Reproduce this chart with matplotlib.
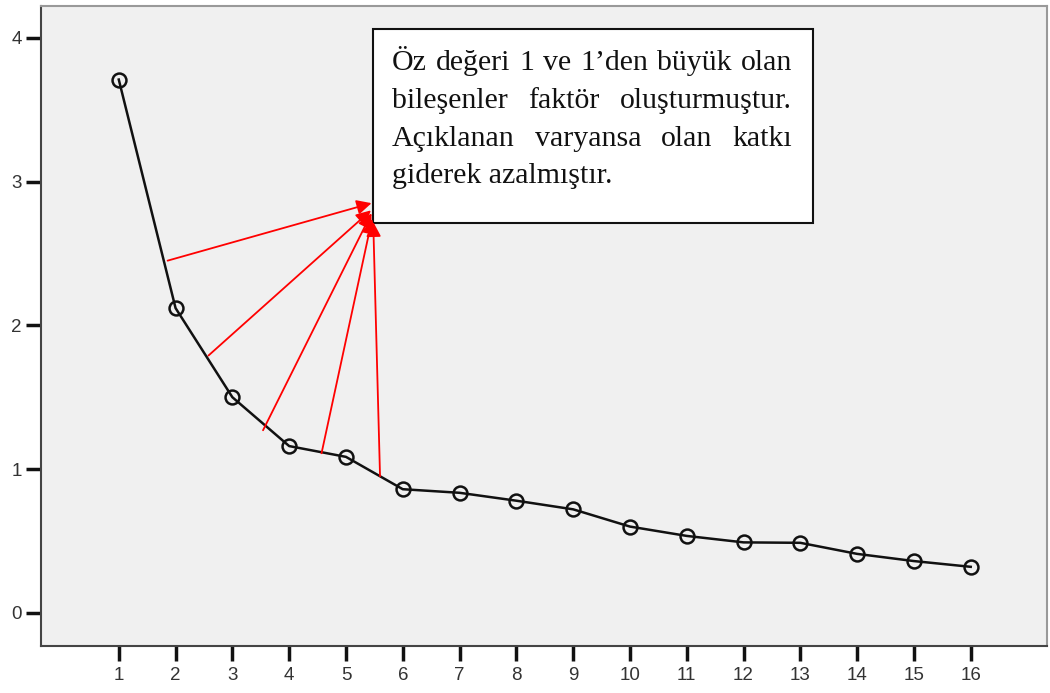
import numpy as np
import matplotlib.pyplot as plt
from matplotlib.patches import Rectangle

# veriler (scree plot)
components = list(range(1, 17))
eigenvalues = [3.71, 2.12, 1.50, 1.16, 1.085, 0.86, 0.835, 0.78,
               0.72, 0.60, 0.535, 0.49, 0.487, 0.41, 0.36, 0.32]
y_ticks = [0, 1, 2, 3, 4]

note_lines = ["Öz değeri 1 ve 1’den büyük olan",
              "bileşenler faktör oluşturmuştur.",
              "Açıklanan varyansa olan katkı",
              "giderek azalmıştır."]
justify = [True, True, True, False]

# kırmızı oklar: (başlangıç, bitiş)
arrow_starts = [(1.86, 2.45), (2.58, 1.79), (3.54, 1.27), (4.57, 1.11), (5.60, 0.95)]
arrow_ends = [(5.45, 2.85), (5.44, 2.80), (5.45, 2.78), (5.46, 2.74), (5.48, 2.72)]

fig = plt.figure(figsize=(10.5, 6.93), dpi=100)
ax = fig.add_axes([0.039, 0.068, 0.958, 0.923])
ax.set_facecolor('#f0f0f0')

ax.plot(components, eigenvalues, color='#111111', lw=1.8, marker='o', ms=10,
        mfc='none', mec='#111111', mew=1.8, zorder=3)

ax.set_xlim(-0.37, 17.34)
ax.set_ylim(-0.23, 4.22)
ax.set_xticks(components)
ax.set_yticks(y_ticks)
ax.tick_params(axis='both', length=11, width=2.5, color='#111111',
               labelsize=13.5, labelcolor='#333333')
ax.tick_params(axis='y', pad=3)
ax.tick_params(axis='x', pad=4)
for lab in ax.get_xticklabels() + ax.get_yticklabels():
    lab.set_fontfamily('Liberation Sans')

for s in ['left', 'bottom']:
    ax.spines[s].set_color('#444444')
    ax.spines[s].set_linewidth(1.5)
for s in ['top', 'right']:
    ax.spines[s].set_color('#999999')
    ax.spines[s].set_linewidth(1.5)

# metin kutusu
ax.add_patch(Rectangle((5.47, 2.71), 13.22 - 5.47, 4.06 - 2.71, facecolor='white',
                       edgecolor='#111111', lw=1.5, zorder=4))

x_left, x_right = 5.81, 12.85
baselines = [3.777, 3.513, 3.249, 2.99]
fs = 21.5
fig.canvas.draw()
renderer = fig.canvas.get_renderer()
px_left = ax.transData.transform((x_left, 0))[0]
px_right = ax.transData.transform((x_right, 0))[0]
for line, yb, jus in zip(note_lines, baselines, justify):
    if not jus:
        ax.text(x_left, yb, line, fontsize=fs, family='Liberation Serif',
                va='baseline', ha='left', zorder=5, color='#111111')
        continue
    words = line.split()
    widths = []
    for w in words:
        t = ax.text(0, 0, w, fontsize=fs, family='Liberation Serif')
        widths.append(t.get_window_extent(renderer).width)
        t.remove()
    gap = (px_right - px_left - sum(widths)) / (len(words) - 1)
    px = px_left
    for w, wd in zip(words, widths):
        xd = ax.transData.inverted().transform((px, 0))[0]
        ax.text(xd, yb, w, fontsize=fs, family='Liberation Serif',
                va='baseline', ha='left', zorder=5, color='#111111')
        px += wd + gap

for (x0, y0), (x1, y1) in zip(arrow_starts, arrow_ends):
    ax.annotate('', xy=(x1, y1), xytext=(x0, y0),
                arrowprops=dict(arrowstyle='-|>', color='red', lw=1.3,
                                mutation_scale=22, shrinkA=0, shrinkB=0),
                zorder=6)

fig.savefig('out.png', dpi=100, facecolor='white')
